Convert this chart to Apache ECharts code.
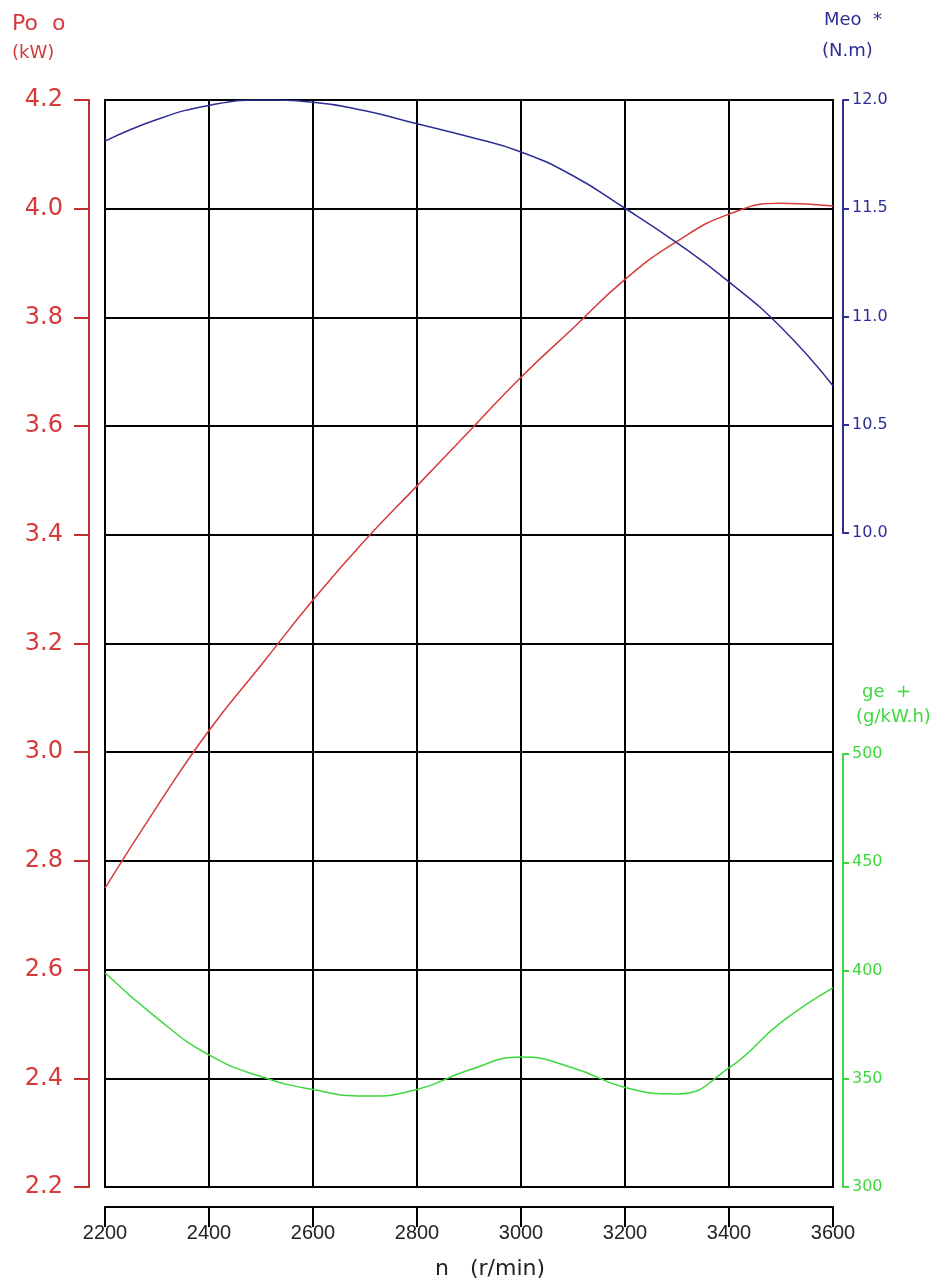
<!DOCTYPE html>
<html>
<head>
<meta charset="utf-8">
<script src="https://cdn.jsdelivr.net/npm/echarts@6/dist/echarts.min.js"></script>
<style>
html, body { margin: 0; padding: 0; background: #fff; }
#charts { width: 945px; height: 1287px; }
</style>
</head>
<body>
<div id="charts"></div>
<script>
// speed n (r/min)
var speed = [2200, 2300, 2400, 2500, 2600, 2700, 2800, 2900, 3000, 3100, 3200, 3300, 3400, 3500, 3600];
// Po o (kW), left axis
var power = [2.75, 2.90, 3.04, 3.16, 3.28, 3.39, 3.49, 3.59, 3.69, 3.78, 3.87, 3.94, 3.99, 4.01, 4.005];
// Meo * (N.m), upper right axis
var torque = [11.81, 11.91, 11.975, 12.0, 11.99, 11.95, 11.89, 11.83, 11.76, 11.65, 11.50, 11.34, 11.16, 10.95, 10.68];
// ge + (g/kW.h), lower right axis
var fuel = [399, 378, 361, 351, 345, 342, 345, 354, 360, 355, 346, 343, 355, 376, 392];

function pairs(ys) {
	var out = [];
	for (var i = 0; i < speed.length; i++) out.push([speed[i], ys[i]]);
	return out;
}

var RED = '#d63a3a', BLUE = '#2e2e96', GREEN = '#3ed83e';
var FONT = 'DejaVu Sans';

var chart = echarts.init(document.getElementById('charts'));
var option = {
	animation: false,
	backgroundColor: '#fff',
	grid: [
		{ left: 105, width: 728, top: 100, height: 1087, show: true, borderColor: '#000', borderWidth: 2 },
		{ left: 105, width: 728, top: 100, height: 433 },
		{ left: 105, width: 728, top: 754, height: 433 }
	],
	xAxis: [
		{
			gridIndex: 0, type: 'value', min: 2200, max: 3600, interval: 200,
			position: 'bottom', offset: 20,
			axisLine: { lineStyle: { color: '#000', width: 2 } },
			axisTick: { length: 20, lineStyle: { color: '#000', width: 2 } },
			axisLabel: { fontSize: 20, color: '#222', margin: 16, fontFamily: 'Liberation Sans',
				formatter: function (v) { return String(v); } },
			splitLine: { show: true, lineStyle: { color: '#000', width: 2 } }
		},
		{ gridIndex: 1, type: 'value', min: 2200, max: 3600, show: false },
		{ gridIndex: 2, type: 'value', min: 2200, max: 3600, show: false }
	],
	yAxis: [
		{
			gridIndex: 0, type: 'value', min: 2.2, max: 4.2, interval: 0.2,
			position: 'left', offset: 16,
			axisLine: { show: true, lineStyle: { color: '#c03030', width: 2 } },
			axisTick: { show: true, length: 15, lineStyle: { color: '#c03030', width: 2 } },
			axisLabel: { fontSize: 24, color: RED, margin: 26, fontFamily: FONT,
				formatter: function (v) { return v.toFixed(1); } },
			splitLine: { show: true, lineStyle: { color: '#000', width: 2 } }
		},
		{
			gridIndex: 1, type: 'value', min: 10, max: 12, interval: 0.5,
			position: 'right', offset: 10,
			axisLine: { show: true, lineStyle: { color: BLUE, width: 2 } },
			axisTick: { show: true, length: 6, lineStyle: { color: BLUE, width: 2 } },
			axisLabel: { fontSize: 16, color: BLUE, margin: 9, fontFamily: FONT,
				formatter: function (v) { return v.toFixed(1); } },
			splitLine: { show: false }
		},
		{
			gridIndex: 2, type: 'value', min: 300, max: 500, interval: 50,
			position: 'right', offset: 10,
			axisLine: { show: true, lineStyle: { color: GREEN, width: 2 } },
			axisTick: { show: true, length: 6, lineStyle: { color: GREEN, width: 2 } },
			axisLabel: { fontSize: 16, color: GREEN, margin: 9, fontFamily: FONT },
			splitLine: { show: false }
		}
	],
	graphic: [
		{ type: 'text', left: 12, top: 13, style: { text: 'Po  o', fontSize: 22, fill: RED, fontFamily: FONT } },
		{ type: 'text', left: 12, top: 44, style: { text: '(kW)', fontSize: 18, fill: RED, fontFamily: FONT } },
		{ type: 'text', left: 824, top: 11, style: { text: 'Meo  *', fontSize: 18, fill: BLUE, fontFamily: FONT } },
		{ type: 'text', left: 822, top: 42, style: { text: '(N.m)', fontSize: 18, fill: BLUE, fontFamily: FONT } },
		{ type: 'text', left: 862, top: 683, style: { text: 'ge  +', fontSize: 18, fill: GREEN, fontFamily: FONT } },
		{ type: 'text', left: 856, top: 708, style: { text: '(g/kW.h)', fontSize: 18, fill: GREEN, fontFamily: FONT } },
		{ type: 'text', left: 435, top: 1258, style: { text: 'n   (r/min)', fontSize: 22, fill: '#222', fontFamily: FONT } }
	],
	series: [
		{ name: 'Po o', type: 'line', xAxisIndex: 0, yAxisIndex: 0, data: pairs(power), smooth: 0.5,
			showSymbol: false, lineStyle: { color: RED, width: 1.5 }, z: 5 },
		{ name: 'Meo *', type: 'line', xAxisIndex: 1, yAxisIndex: 1, data: pairs(torque), smooth: 0.5,
			showSymbol: false, lineStyle: { color: BLUE, width: 1.5 }, z: 5 },
		{ name: 'ge +', type: 'line', xAxisIndex: 2, yAxisIndex: 2, data: pairs(fuel), smooth: 0.5,
			showSymbol: false, lineStyle: { color: GREEN, width: 1.5 }, z: 5 }
	]
};
chart.setOption(option);
</script>
</body>
</html>
